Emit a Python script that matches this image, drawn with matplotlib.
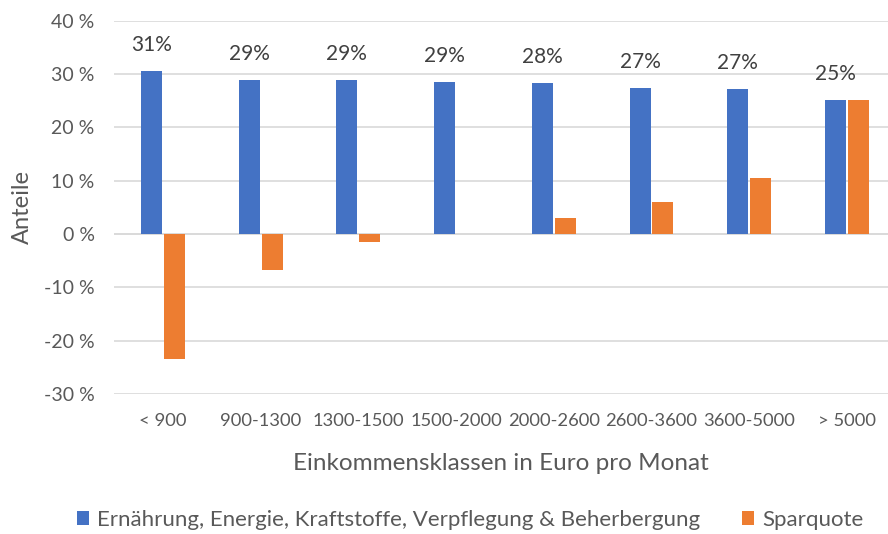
import matplotlib
matplotlib.use("Agg")
import matplotlib.pyplot as plt
import numpy as np

categories = ["< 900", "900-1300", "1300-1500", "1500-2000", "2000-2600", "2600-3600", "3600-5000", "> 5000"]
ernaehrung = [30.6, 28.9, 28.9, 28.4, 28.2, 27.3, 27.1, 25.1]
sparquote = [-23.5, -6.8, -1.5, 0.0, 2.9, 5.9, 10.4, 25.1]
data_labels = ["31%", "29%", "29%", "29%", "28%", "27%", "27%", "25%"]
series_names = ["Ernährung, Energie, Kraftstoffe, Verpflegung & Beherbergung", "Sparquote"]
yticks = [-30, -20, -10, 0, 10, 20, 30, 40]

plt.rcParams['font.family'] = ['Lato', 'DejaVu Sans']
TXT = "#595959"
BLUE = "#4472C4"
ORANGE = "#ED7D31"

fig = plt.figure(figsize=(8.88, 5.34), dpi=100)
W, H = 888, 534
ax = fig.add_axes([114 / W, 1 - 394 / H, (888 - 114) / W, (394 - 20.5) / H])

x = np.arange(len(categories))
bw = 0.215
ax.bar(x - bw / 2 - 0.01, ernaehrung, width=bw, color=BLUE, zorder=3, label=series_names[0])
ax.bar(x + bw / 2 + 0.01, sparquote, width=bw, color=ORANGE, zorder=3, label=series_names[1])

for xi, v, lab in zip(x, ernaehrung, data_labels):
    ax.annotate(lab, (xi - bw / 2 - 0.01, v), xytext=(0, 26), textcoords="offset pixels",
                ha="center", va="center", fontsize=15, color="#404040")

ax.set_xlim(-0.5, 7.42)
ax.set_ylim(-30, 40)
ax.set_yticks(yticks)
ax.set_yticklabels([f"{t} %" for t in yticks])
ax.set_xticks(x)
ax.set_xticklabels(categories)
ax.tick_params(axis="both", length=0, labelsize=14, colors=TXT)
ax.tick_params(axis="x", labelsize=13.2, pad=14)
ax.tick_params(axis="y", pad=14)
ax.grid(axis="y", color="#D9D9D9", linewidth=1.2, zorder=0)
for s in ax.spines.values():
    s.set_visible(False)
ax.axhline(0, color="#D9D9D9", linewidth=1.2, zorder=2)

ax.set_ylabel("Anteile", fontsize=17, color=TXT, labelpad=8)
ax.set_xlabel("Einkommensklassen in Euro pro Monat", fontsize=17.5, color=TXT, labelpad=17)

fig.legend(loc="center", bbox_to_anchor=(470 / W, 1 - 520 / H), ncol=2, frameon=False,
           fontsize=16, labelcolor=TXT, handlelength=0.55, handleheight=0.55, handletextpad=0.35,
           columnspacing=1.9)

fig.savefig("out.png", dpi=100)
